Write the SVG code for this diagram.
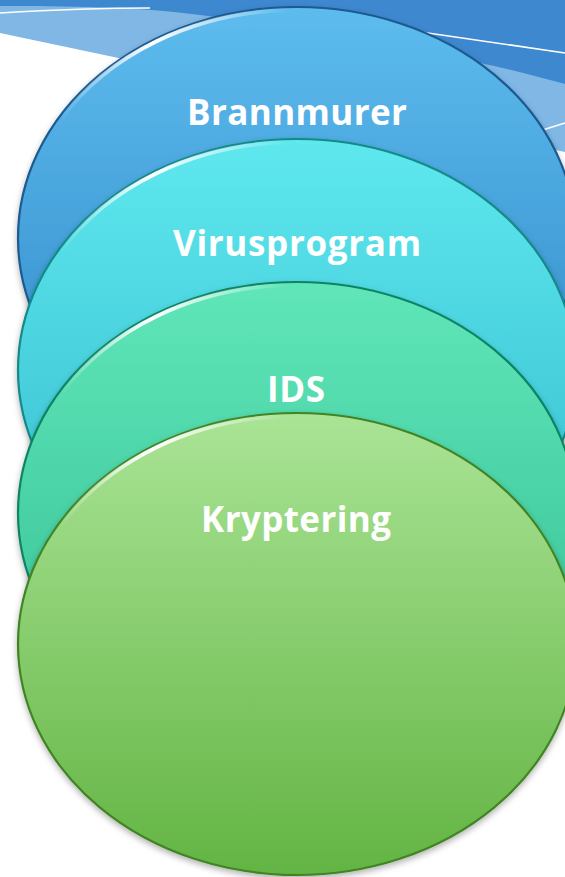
<svg xmlns="http://www.w3.org/2000/svg" width="565" height="877" viewBox="0 0 565 877">
<style>
.lbl{font-family:"Open Sans","Noto Sans","DejaVu Sans",sans-serif;font-weight:bold;font-size:35px;fill:#ffffff;text-anchor:middle}
.shine{fill:none;stroke:url(#shine);stroke-width:4;filter:url(#soft)}
.bgline{fill:none;stroke:#ffffff;stroke-width:1.6}
</style>
<defs>
<linearGradient id="gBlue" x1="0" y1="0" x2="0" y2="1"><stop offset="0" stop-color="#5DBCEE"/><stop offset="1" stop-color="#2F86C6"/></linearGradient>
<linearGradient id="gCyan" x1="0" y1="0" x2="0" y2="1"><stop offset="0" stop-color="#5EE8EE"/><stop offset="1" stop-color="#33BACD"/></linearGradient>
<linearGradient id="gTeal" x1="0" y1="0" x2="0" y2="1"><stop offset="0" stop-color="#5FE6B8"/><stop offset="1" stop-color="#34BD94"/></linearGradient>
<linearGradient id="gGreen" x1="0" y1="0" x2="0" y2="1"><stop offset="0" stop-color="#AAE496"/><stop offset="1" stop-color="#63B443"/></linearGradient>
<linearGradient id="shine" x1="0" y1="0" x2="1" y2="0"><stop offset="0" stop-color="#ffffff" stop-opacity="0"/><stop offset="0.4" stop-color="#ffffff" stop-opacity="1"/><stop offset="1" stop-color="#ffffff" stop-opacity="0"/></linearGradient>
<filter id="soft" x="-10%" y="-10%" width="120%" height="120%"><feGaussianBlur stdDeviation="0.5"/></filter>
<filter id="shadow" x="-10%" y="-10%" width="120%" height="125%"><feDropShadow dx="0" dy="3" stdDeviation="3" flood-color="#000000" flood-opacity="0.3"/></filter>
</defs>
<g id="background">
<rect x="0" y="0" width="565" height="877" fill="#ffffff"/>
<path d="M0,0 H565 V152 L0,33 Z" fill="#80B7E5"/>
<path d="M0,0 H565 V84 C520,72 500,67 480,63 C380,40 260,22 200,15 C160,10 130,8 90,7 C50,6 20,6 0,6 Z" fill="#3E88D0"/>
<path class="bgline" d="M0,13 C50,10 100,8 150,8"/>
<path class="bgline" d="M380,26 L565,53"/>
<path class="bgline" d="M530,134 L565,123"/>
</g>
<g id="node-brannmurer">
<ellipse cx="297" cy="238" rx="279" ry="231" fill="url(#gBlue)" stroke="#1A5A90" stroke-width="2.2" filter="url(#shadow)"/>
<path class="shine" d="M60,120 A276,228 0 0 1 287,10"/>
<text class="lbl" x="297" y="125" textLength="220">Brannmurer</text>
</g>
<g id="node-virusprogram">
<ellipse cx="297" cy="370" rx="279" ry="231" fill="url(#gCyan)" stroke="#138A88" stroke-width="2.2" filter="url(#shadow)"/>
<path class="shine" d="M60,252 A276,228 0 0 1 287,142"/>
<text class="lbl" x="297" y="256" textLength="248">Virusprogram</text>
</g>
<g id="node-ids">
<ellipse cx="297" cy="513" rx="279" ry="231" fill="url(#gTeal)" stroke="#0C8463" stroke-width="2.2" filter="url(#shadow)"/>
<path class="shine" d="M60,395 A276,228 0 0 1 287,285"/>
<text class="lbl" x="296" y="402" textLength="58">IDS</text>
</g>
<g id="node-kryptering">
<ellipse cx="297" cy="644" rx="279" ry="231" fill="url(#gGreen)" stroke="#418524" stroke-width="2.2" filter="url(#shadow)"/>
<path class="shine" d="M60,526 A276,228 0 0 1 287,416"/>
<text class="lbl" x="296" y="532" textLength="190">Kryptering</text>
</g>
</svg>
